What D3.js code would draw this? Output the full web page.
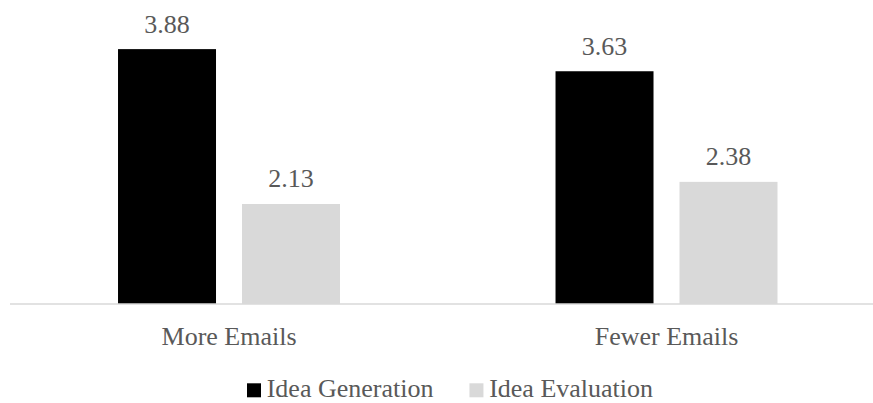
<!DOCTYPE html>
<html>
<head>
<meta charset="utf-8">
<script src="https://cdn.jsdelivr.net/npm/d3@7"></script>
<style>
  html, body { margin: 0; padding: 0; background: #ffffff; }
  svg { display: block; }
</style>
</head>
<body>
<svg id="chart" width="873" height="403"></svg>
<script>
// Email condition groups and the two idea measures
const categories = ["More Emails", "Fewer Emails"];
const seriesNames = ["Idea Generation", "Idea Evaluation"];
const ideaGeneration = [3.88, 3.63];
const ideaEvaluation = [2.13, 2.38];
const seriesColors = ["#000000", "#d9d9d9"];
const yDomain = [1, 4];

const rows = categories.map((c, i) => ({
  category: c,
  values: [
    { series: seriesNames[0], value: ideaGeneration[i] },
    { series: seriesNames[1], value: ideaEvaluation[i] }
  ]
}));

const svg = d3.select("#chart");
const fontSize = 26;
const fontFamily = "'Liberation Serif', 'Times New Roman', 'DejaVu Serif', serif";
const textColor = "#595959";

// Plot area
const plotLeft = 10, plotRight = 885;
const baseY = 304;

const x0 = d3.scaleBand().domain(categories).range([plotLeft, plotRight]).padding(0);
const groupW = x0.bandwidth();
const x1 = d3.scaleBand().domain(seriesNames)
  .range([groupW * 0.2469, groupW * 0.7543])
  .paddingInner(0.2097).paddingOuter(0);
const y = d3.scaleLinear().domain(yDomain).range([baseY, 38.5]);
const color = d3.scaleOrdinal().domain(seriesNames).range(seriesColors);

const groups = svg.selectAll("g.group").data(rows).enter().append("g")
  .attr("class", "group")
  .attr("transform", d => `translate(${x0(d.category)},0)`);

groups.selectAll("rect").data(d => d.values).enter().append("rect")
  .attr("x", d => x1(d.series))
  .attr("width", x1.bandwidth())
  .attr("y", d => y(d.value))
  .attr("height", d => y(yDomain[0]) - y(d.value))
  .attr("fill", d => color(d.series));

// Value labels above bars
groups.selectAll("text.val").data(d => d.values).enter().append("text")
  .attr("class", "val")
  .attr("x", d => x1(d.series) + x1.bandwidth() / 2)
  .attr("y", d => y(d.value) - 16.5)
  .attr("text-anchor", "middle")
  .attr("font-family", fontFamily)
  .attr("font-size", fontSize)
  .attr("fill", textColor)
  .text(d => d.value.toFixed(2));

// Category axis line
svg.append("line")
  .attr("x1", plotLeft).attr("x2", 873)
  .attr("y1", baseY).attr("y2", baseY)
  .attr("stroke", "#d9d9d9").attr("stroke-width", 1.5);

// Category labels
svg.selectAll("text.cat").data(categories).enter().append("text")
  .attr("class", "cat")
  .attr("x", d => x0(d) + groupW * 0.5007)
  .attr("y", 345)
  .attr("text-anchor", "middle")
  .attr("font-family", fontFamily)
  .attr("font-size", fontSize)
  .attr("fill", textColor)
  .text(d => d);

// Legend
const legend = svg.append("g");
let lx = 247;
seriesNames.forEach((name, i) => {
  legend.append("rect")
    .attr("x", lx).attr("y", 383.3)
    .attr("width", 14).attr("height", 14)
    .attr("fill", seriesColors[i]);
  const t = legend.append("text")
    .attr("x", lx + 19.7).attr("y", 397)
    .attr("font-family", fontFamily)
    .attr("font-size", fontSize)
    .attr("fill", textColor)
    .text(name);
  lx = lx + 19.7 + t.node().getComputedTextLength() + 36;
});
</script>
</body>
</html>
